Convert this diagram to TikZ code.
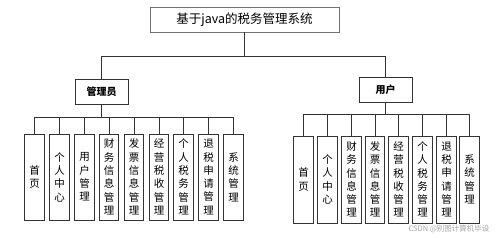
\documentclass[tikz,border=0pt]{standalone}
\usepackage{fontspec}
\setmainfont{Noto Sans CJK SC}
\usepackage{tikz}
\usetikzlibrary{positioning,calc}

\begin{document}
\begin{tikzpicture}[
    x=1pt, y=-1pt,
    root/.style={draw=black!55, line width=0.7pt, minimum width=189pt, minimum height=25pt, inner sep=0pt, font=\fontsize{12.5}{14}\selectfont},
    role/.style={draw=black!80, line width=0.8pt, minimum width=53pt, minimum height=25pt, inner sep=0pt, font=\fontsize{10}{12}\selectfont\bfseries},
    func/.style={draw=black!80, line width=0.8pt, minimum width=19.5pt, minimum height=86pt, inner sep=0pt, align=center, font=\fontsize{10.5}{13.3}\selectfont},
    link/.style={draw=black!80, line width=0.8pt}
]
\useasboundingbox (0,0) rectangle (499,238);

\node[root] (sys) at (244.5,19.5) {基于java的税务管理系统};
\node[role] (admin) at (101.5,91.5) {管理员};
\node[role] (user) at (385.5,89.5) {用户};

% admin functions
\node[func] (a1) at (34.5,177) {首\\页};
\node[func] (a2) at (59.5,177) {个\\人\\中\\心};
\node[func] (a3) at (84.5,177) {用\\户\\管\\理};
\node[func] (a4) at (109,177) {财\\务\\信\\息\\管\\理};
\node[func] (a5) at (134,177) {发\\票\\信\\息\\管\\理};
\node[func] (a6) at (159,177) {经\\营\\税\\收\\管\\理};
\node[func] (a7) at (183.5,177) {个\\人\\税\\务\\管\\理};
\node[func] (a8) at (208.5,177) {退\\税\\申\\请\\管\\理};
\node[func] (a9) at (233.5,177) {系\\统\\管\\理};

% user functions
\node[func, minimum height=87pt] (u1) at (303.5,179.5) {首\\页};
\node[func, minimum height=87pt] (u2) at (327.5,179.5) {个\\人\\中\\心};
\node[func, minimum height=87pt] (u3) at (351.5,179.5) {财\\务\\信\\息\\管\\理};
\node[func, minimum height=87pt] (u4) at (375,179.5) {发\\票\\信\\息\\管\\理};
\node[func, minimum height=87pt] (u5) at (398.5,179.5) {经\\营\\税\\收\\管\\理};
\node[func, minimum height=87pt] (u6) at (422.5,179.5) {个\\人\\税\\务\\管\\理};
\node[func, minimum height=87pt] (u7) at (446.5,179.5) {退\\税\\申\\请\\管\\理};
\node[func, minimum height=87pt] (u8) at (469.5,179.5) {系\\统\\管\\理};

\node[text=black!35, font=\fontsize{7.5}{9}\selectfont, anchor=east] (mark) at (493,229) {CSDN @别图计算机毕设};

\coordinate (topbus) at (244.5,56);
\coordinate (adminbus) at (101.5,117);
\coordinate (userbus) at (385.5,114);

\draw[link] (sys.south) -- (topbus);
\draw[link] (topbus) -| (admin.north);
\draw[link] (topbus) -| (user.north);
\draw[link] (admin.south) -- (adminbus);
\draw[link] (user.south) -- (userbus);
\foreach \n in {a1,a2,a3,a4,a5,a6,a7,a8,a9}
    \draw[link] (adminbus) -| (\n.north);
\foreach \n in {u1,u2,u3,u4,u5,u6,u7,u8}
    \draw[link] (userbus) -| (\n.north);
\end{tikzpicture}
\end{document}
